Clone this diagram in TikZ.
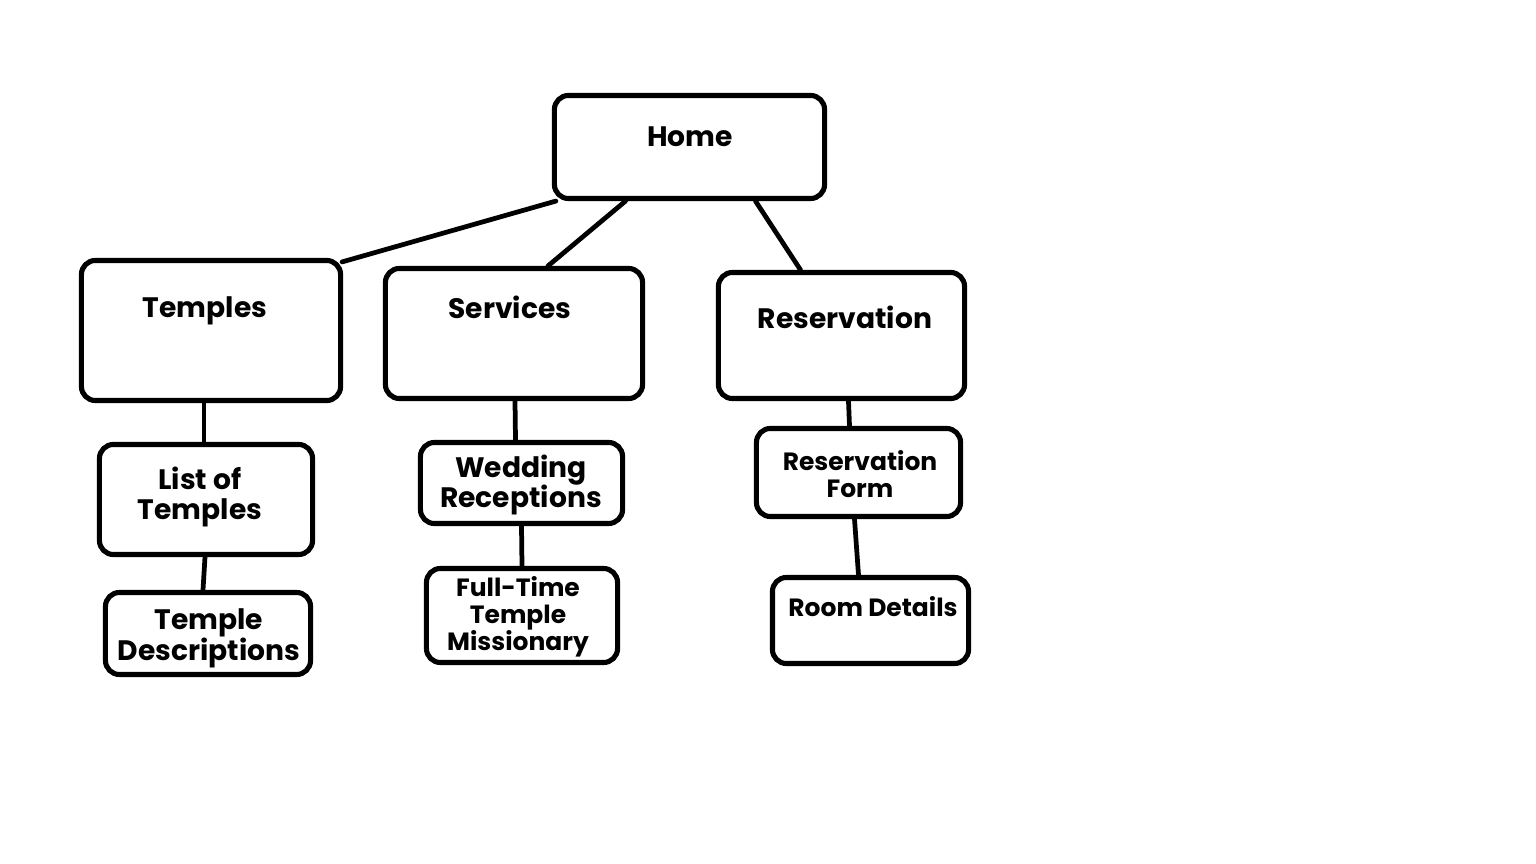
\documentclass[tikz,border=0pt]{standalone}
\usepackage{fontspec}
\setmainfont{Poppins}
\usepackage{tikz}
\usetikzlibrary{calc}
\newcommand{\tightlines}{\lineskiplimit=-5pt\relax}
\tikzstyle{page}=[line width=1.35pt, draw=black]
\tikzstyle{box}=[rectangle, rounded corners=0.14cm, line width=1.45pt, draw, fill=white, inner sep=0pt]
\tikzstyle{lbl}=[inner sep=0pt, align=center, font=\fontsize{8.0}{8.8}\selectfont\bfseries\tightlines]
\tikzstyle{lbls}=[inner sep=0pt, align=center, font=\fontsize{7.1}{7.7}\selectfont\bfseries\tightlines]
\tikzstyle{link}=[-, line width=1.35pt, line cap=round]

\begin{document}
\begin{tikzpicture}[page, x=0.01cm, y=-0.01cm]
			\useasboundingbox (0,0) rectangle (1536,864);

			%The root
			\draw (689.5,147) node[box, minimum width=2.70cm, minimum height=1.03cm] (home) {};

			%The sections
			\draw (211,330.5) node[box, minimum width=2.59cm, minimum height=1.40cm] (temples) {};
			\draw (514,333.5) node[box, minimum width=2.57cm, minimum height=1.30cm] (services) {};
			\draw (841.5,335.5) node[box, minimum width=2.46cm, minimum height=1.26cm] (reservation) {};

			%The sub pages
			\draw (206,499.5) node[box, minimum width=2.13cm, minimum height=1.10cm] (listtemples) {};
			\draw (521.5,483) node[box, minimum width=2.02cm, minimum height=0.81cm] (wedding) {};
			\draw (858.5,472.5) node[box, minimum width=2.04cm, minimum height=0.88cm] (resform) {};

			%The bottom pages
			\draw (208,633.5) node[box, minimum width=2.05cm, minimum height=0.82cm] (templedesc) {};
			\draw (522,615.5) node[box, minimum width=1.91cm, minimum height=0.94cm] (fulltime) {};
			\draw (870.5,620.5) node[box, minimum width=1.96cm, minimum height=0.86cm] (room) {};

			%The links
			\draw[link] ($(home.south west)+(4,0)$) -- ($(temples.north east)+(-1,4)$);
			\draw[link] ($(home.south)+(-64,0)$) -- ($(services.north)+(34,0)$);
			\draw[link] ($(home.south)+(66,0)$) -- ($(reservation.north)+(-41,0)$);
			\draw[link] ($(temples.south)+(-7,0)$) -- ($(listtemples.north)+(-2,0)$);
			\draw[link] ($(services.south)+(1,0)$) -- ($(wedding.north)+(-6,0)$);
			\draw[link] ($(reservation.south)+(7,0)$) -- ($(resform.north)+(-9,0)$);
			\draw[link] ($(listtemples.south)+(-1,0)$) -- ($(templedesc.north)+(-5,0)$);
			\draw[link] (wedding.south) -- (fulltime.north);
			\draw[link] ($(resform.south)+(-4,0)$) -- ($(room.north)+(-12,0)$);

			%The titles
			\draw (690,137) node[lbl] (t-home) {Home};
			\draw (205,311) node[lbl] (t-temples) {Temples};
			\draw (510,307) node[lbl] (t-services) {Services};
			\draw (845,317) node[lbl] (t-reservation) {Reservation};
			\draw (200,497) node[lbl] (t-listtemples) {List of\\Temples};
			\draw (521,485) node[lbl] (t-wedding) {Wedding\\Receptions};
			\draw (860,474) node[lbls] (t-resform) {Reservation\\Form};
			\draw (209,638) node[lbl] (t-templedesc) {Temple\\Descriptions};
			\draw (518,617) node[lbls] (t-fulltime) {Full-Time\\Temple\\Missionary};
			\draw (873,607) node[lbls] (t-room) {Room Details};
		\end{tikzpicture}
\end{document}
